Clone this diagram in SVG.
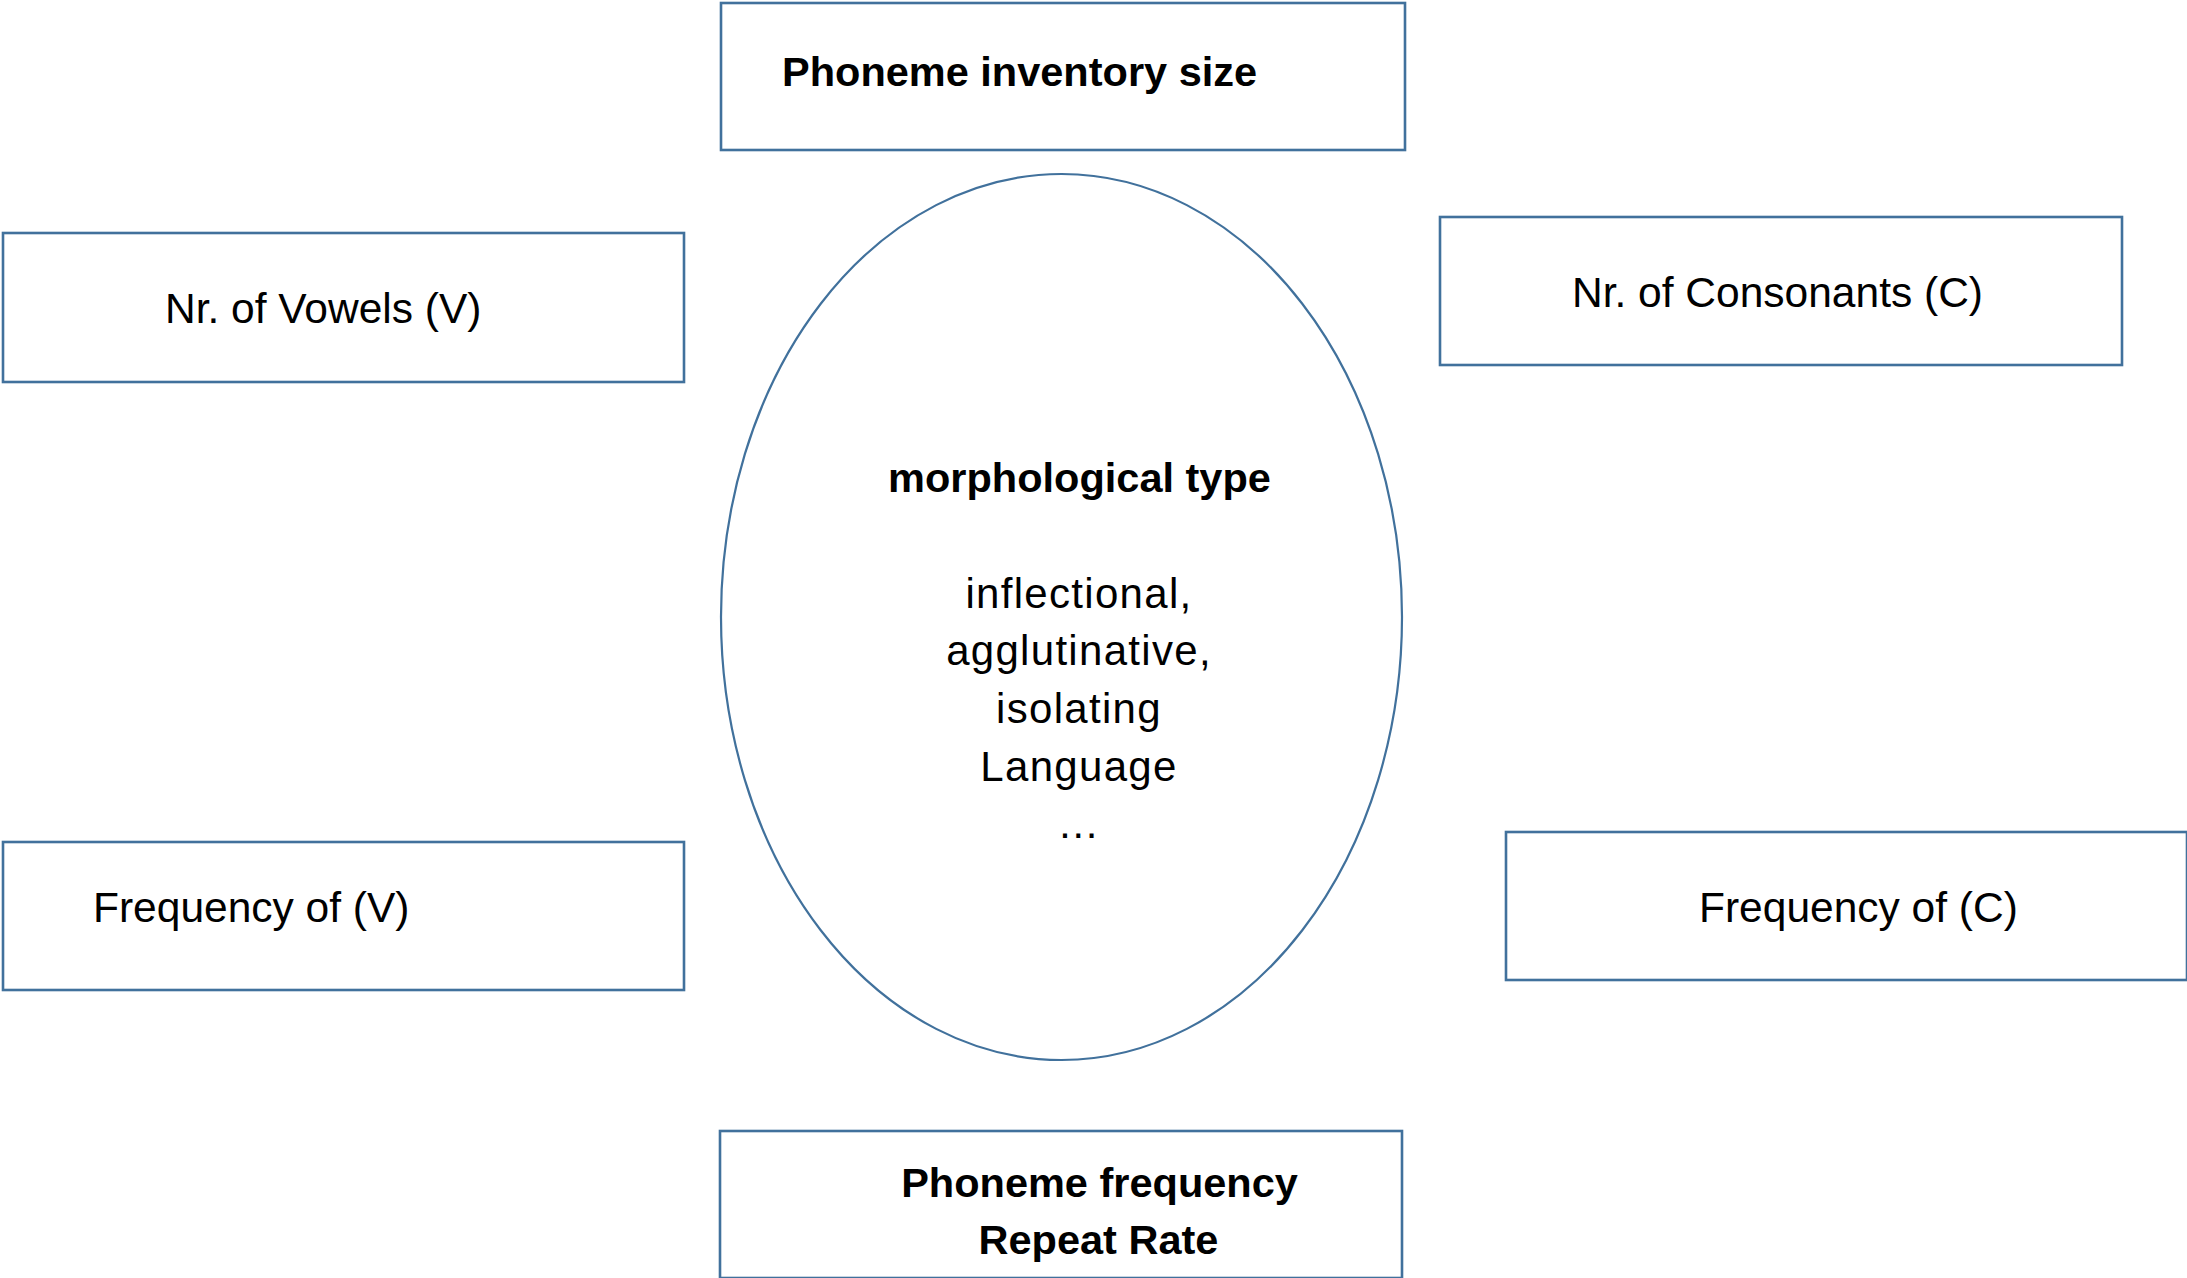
<svg xmlns="http://www.w3.org/2000/svg" width="2187" height="1278" viewBox="0 0 2187 1278">
<style>
  .box { fill: #ffffff; stroke: #41719C; stroke-width: 2.6; }
  .ell { fill: #ffffff; stroke: #41719C; stroke-width: 2.2; }
  .t { font-family: "Liberation Sans", Arial, sans-serif; font-size: 42.5px; fill: #000000; }
  .b { font-family: "Liberation Sans", Arial, sans-serif; font-size: 41.5px; font-weight: bold; fill: #000000; }
  .c { font-family: "Liberation Sans", Arial, sans-serif; font-size: 42px; fill: #000000; text-anchor: middle; letter-spacing: 1.3px; }
</style>
<rect width="2187" height="1278" fill="#ffffff"/>
<g id="connectors"></g>
<g id="node-inventory">
  <rect class="box" x="721" y="3" width="684" height="147"/>
  <text class="b" x="782" y="86">Phoneme inventory size</text>
</g>
<g id="node-vowels">
  <rect class="box" x="3" y="233" width="681" height="149"/>
  <text class="t" x="165" y="323">Nr. of Vowels (V)</text>
</g>
<g id="node-consonants">
  <rect class="box" x="1440" y="217" width="682" height="148"/>
  <text class="t" x="1572" y="307">Nr. of Consonants (C)</text>
</g>
<g id="node-freq-v">
  <rect class="box" x="3" y="842" width="681" height="148"/>
  <text class="t" x="93" y="922">Frequency of (V)</text>
</g>
<g id="node-freq-c">
  <rect class="box" x="1506" y="832" width="681" height="148"/>
  <text class="t" x="1699" y="922">Frequency of (C)</text>
</g>
<g id="node-morph">
  <ellipse class="ell" cx="1061.5" cy="617" rx="340.5" ry="443"/>
  <text class="b" x="1079.5" y="492" text-anchor="middle">morphological type</text>
  <text class="c" x="1079" y="608">inflectional,</text>
  <text class="c" x="1079" y="665">agglutinative,</text>
  <text class="c" x="1079" y="723">isolating</text>
  <text class="c" x="1079" y="781">Language</text>
  <text class="c" x="1079" y="838">…</text>
</g>
<g id="node-frequency">
  <rect class="box" x="720" y="1131" width="682" height="147"/>
  <text class="b" x="1099.5" y="1197" text-anchor="middle">Phoneme frequency</text>
  <text class="b" x="1098.5" y="1254" text-anchor="middle">Repeat Rate</text>
</g>
</svg>
